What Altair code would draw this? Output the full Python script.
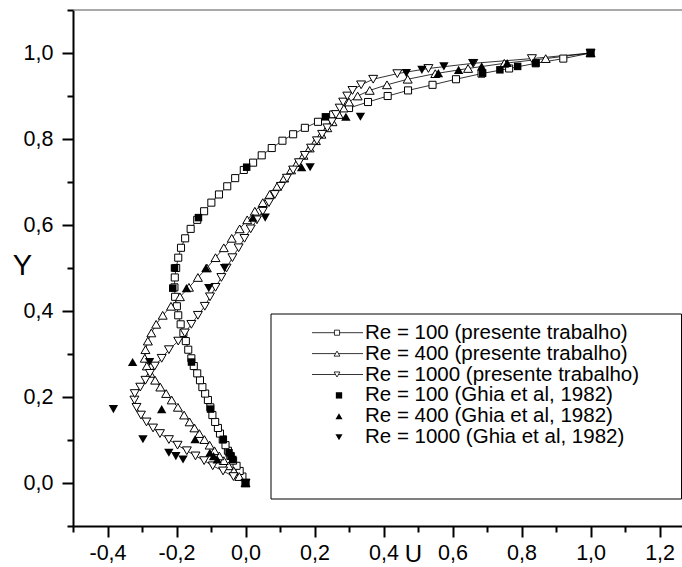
import altair as alt
import pandas as pd

# ---------------- data ----------------
y_grid = [0.000, 0.015, 0.028, 0.040, 0.052, 0.063, 0.075, 0.088, 0.101, 0.115,
          0.128, 0.142, 0.158, 0.176, 0.193, 0.208, 0.223, 0.239, 0.255, 0.272,
          0.290, 0.310, 0.330, 0.349, 0.369, 0.390, 0.411, 0.433, 0.455, 0.478,
          0.500, 0.524, 0.547, 0.569, 0.591, 0.612, 0.632, 0.652, 0.671, 0.690,
          0.709, 0.728, 0.745, 0.762, 0.779, 0.796, 0.811, 0.826, 0.840, 0.857,
          0.872, 0.886, 0.900, 0.913, 0.926, 0.939, 0.952, 0.964, 0.976, 0.987,
          1.000]

u_re100 = [0.000, -0.009, -0.017, -0.026, -0.036, -0.044, -0.051, -0.058, -0.066, -0.074,
           -0.080, -0.088, -0.096, -0.102, -0.109, -0.117, -0.125, -0.132, -0.140, -0.150,
           -0.157, -0.166, -0.173, -0.180, -0.188, -0.195, -0.199, -0.204, -0.206, -0.205,
           -0.201, -0.195, -0.187, -0.175, -0.159, -0.140, -0.120, -0.099, -0.077, -0.053,
           -0.030, -0.005, 0.022, 0.047, 0.076, 0.107, 0.138, 0.172, 0.210, 0.254,
           0.300, 0.355, 0.412, 0.471, 0.542, 0.610, 0.684, 0.764, 0.841, 0.921,
           1.000]

u_re400 = [0.000, -0.018, -0.034, -0.049, -0.063, -0.076, -0.090, -0.104, -0.119, -0.134,
           -0.148, -0.162, -0.178, -0.196, -0.214, -0.230, -0.247, -0.262, -0.276, -0.286,
           -0.292, -0.290, -0.283, -0.273, -0.259, -0.240, -0.216, -0.190, -0.164, -0.138,
           -0.112, -0.087, -0.063, -0.040, -0.017, 0.005, 0.027, 0.050, 0.070, 0.092,
           0.112, 0.132, 0.150, 0.168, 0.186, 0.204, 0.220, 0.237, 0.252, 0.270,
           0.284, 0.300, 0.325, 0.360, 0.410, 0.470, 0.550, 0.645, 0.750, 0.870,
           1.000]

u_re1000 = [0.000, -0.035, -0.065, -0.095, -0.120, -0.145, -0.170, -0.197, -0.222, -0.248,
            -0.268, -0.287, -0.303, -0.316, -0.322, -0.321, -0.305, -0.290, -0.277, -0.263,
            -0.243, -0.222, -0.195, -0.176, -0.157, -0.138, -0.118, -0.103, -0.087, -0.070,
            -0.055, -0.038, -0.020, -0.003, 0.015, 0.033, 0.050, 0.068, 0.085, 0.103,
            0.120, 0.138, 0.155, 0.172, 0.190, 0.207, 0.222, 0.237, 0.250, 0.262,
            0.273, 0.283, 0.295, 0.310, 0.335, 0.370, 0.440, 0.530, 0.660, 0.830,
            1.000]

ghia_y = [1.0000, 0.9766, 0.9688, 0.9609, 0.9531, 0.8516, 0.7344, 0.6172, 0.5000,
          0.4531, 0.2813, 0.1719, 0.1016, 0.0703, 0.0625, 0.0547, 0.0000]
ghia_re100 = [1.0, 0.84123, 0.78871, 0.73722, 0.68717, 0.23151, 0.00332, -0.13641,
              -0.20581, -0.21090, -0.15662, -0.10150, -0.06434, -0.04775, -0.04192,
              -0.03717, 0.0]
ghia_re400 = [1.0, 0.75837, 0.68439, 0.61756, 0.55892, 0.29093, 0.16256, 0.02135,
              -0.11477, -0.17119, -0.32726, -0.24299, -0.14612, -0.10338, -0.09266,
              -0.08186, 0.0]
ghia_re1000 = [1.0, 0.65928, 0.57492, 0.51117, 0.46604, 0.33304, 0.18719, 0.05702,
               -0.06080, -0.10648, -0.27805, -0.38289, -0.29730, -0.22220, -0.20196,
               -0.18109, 0.0]

present_labels = ["Re = 100 (presente trabalho)", "Re = 400 (presente trabalho)",
                  "Re = 1000 (presente trabalho)"]
ghia_labels = ["Re = 100 (Ghia et al, 1982)", "Re = 400 (Ghia et al, 1982)",
               "Re = 1000 (Ghia et al, 1982)"]

x_ticks = [-0.5, -0.4, -0.3, -0.2, -0.1, 0.0, 0.1, 0.2, 0.3, 0.4, 0.5, 0.6, 0.7,
           0.8, 0.9, 1.0, 1.1, 1.2]
y_ticks = [-0.1, 0.0, 0.1, 0.2, 0.3, 0.4, 0.5, 0.6, 0.7, 0.8, 0.9, 1.0, 1.1]

present_u = [u_re100, u_re400, u_re1000]
ghia_u = [ghia_re100, ghia_re400, ghia_re1000]

# ---------------- style ----------------
FONT = "Liberation Sans"
W, H = 609, 516
shapes = ["square", "triangle-up", "triangle-down"]
open_sizes = [50, 80, 80]
fill_sizes = [56, 88, 88]

major_test = "abs(round(datum.value*10)) % 2 == 0"
label_expr = ("abs(round(datum.value*10)) % 2 == 0 ? "
              "(datum.value < -0.001 ? '-' : '') + "
              "replace(format(abs(datum.value), '.1f'), '.', ',') : ''")

x_axis = alt.Axis(values=x_ticks, labelExpr=label_expr, title="U",
                  grid=False, domainColor="black", domainWidth=2,
                  tickColor="black", tickWidth=2,
                  tickSize={"condition": {"test": major_test, "value": 11}, "value": 6},
                  labelFont=FONT, labelFontSize=21.5, labelColor="black",
                  labelPadding=5, labelFlush=False, labelOverlap=False,
                  titleFont=FONT, titleFontSize=24, titleFontWeight="normal",
                  titleColor="black", titleX=340, titleY=35,
                  titleBaseline="alphabetic", titleAlign="center")
y_axis = alt.Axis(values=y_ticks, labelExpr=label_expr, title="Y",
                  grid=False, domainColor="black", domainWidth=2,
                  tickColor="black", tickWidth=2,
                  tickSize={"condition": {"test": major_test, "value": 11}, "value": 6},
                  labelFont=FONT, labelFontSize=21.5, labelColor="black",
                  labelPadding=9, labelFlush=False, labelOverlap=False,
                  titleFont=FONT, titleFontSize=29, titleFontWeight="normal",
                  titleColor="black", titleAngle=0, titleX=-51, titleY=255,
                  titleBaseline="middle", titleAlign="center")

x_scale = alt.Scale(domain=[-0.5, 1.265], nice=False, zero=False)
y_scale = alt.Scale(domain=[-0.1, 1.1], nice=False, zero=False)

one = alt.Data(values=[{"k": 0}])

layers = []

# top frame line
layers.append(alt.Chart(one).mark_rule(color="#555555", strokeWidth=1.2).encode(
    x=alt.value(0), x2=alt.value(W), y=alt.value(0)))

# present work: lines
for lab, us in zip(present_labels, present_u):
    df = pd.DataFrame({"u": us, "y": y_grid, "series": lab})
    layers.append(alt.Chart(df).mark_line(color="black", strokeWidth=0.8).encode(
        x=alt.X("u:Q", scale=x_scale, axis=x_axis),
        y=alt.Y("y:Q", scale=y_scale, axis=y_axis),
        order="y:Q"))

# present work: open markers
for lab, us, shp, sz in zip(present_labels, present_u, shapes, open_sizes):
    df = pd.DataFrame({"u": us, "y": y_grid, "series": lab})
    layers.append(alt.Chart(df).mark_point(
        shape=shp, size=sz, filled=False, fill="white", fillOpacity=1,
        stroke="black", strokeWidth=1, opacity=1).encode(
        x=alt.X("u:Q", scale=x_scale, axis=x_axis),
        y=alt.Y("y:Q", scale=y_scale, axis=y_axis)))

# Ghia et al: filled markers
for lab, us, shp, sz in zip(ghia_labels, ghia_u, shapes, fill_sizes):
    df = pd.DataFrame({"u": us, "y": ghia_y, "series": lab})
    layers.append(alt.Chart(df).mark_point(
        shape=shp, size=sz, filled=True, color="black", opacity=1).encode(
        x=alt.X("u:Q", scale=x_scale, axis=x_axis),
        y=alt.Y("y:Q", scale=y_scale, axis=y_axis)))

# legend box
layers.append(alt.Chart(one).mark_rect(fill="white", stroke="black", strokeWidth=1).encode(
    x=alt.value(198), x2=alt.value(608.5), y=alt.value(304), y2=alt.value(489)))

row_y = [322.7, 343.6, 364.5, 385.4, 406.3, 427.2]
all_labels = present_labels + ghia_labels
for i, lab in enumerate(all_labels):
    ry = row_y[i]
    if i < 3:
        layers.append(alt.Chart(one).mark_rule(color="black", strokeWidth=0.8).encode(
            x=alt.value(239), x2=alt.value(290), y=alt.value(ry)))
        layers.append(alt.Chart(one).mark_point(
            shape=shapes[i], size=[26, 34, 34][i], filled=False, fill="white",
            fillOpacity=1, stroke="black", strokeWidth=0.8, opacity=1).encode(
            x=alt.value(264), y=alt.value(ry)))
    else:
        layers.append(alt.Chart(one).mark_point(
            shape=shapes[i - 3], size=[40, 50, 50][i - 3], filled=True,
            color="black", opacity=1).encode(
            x=alt.value(266), y=alt.value(ry)))
    layers.append(alt.Chart(one).mark_text(
        align="left", baseline="middle", font=FONT, fontSize=20.5,
        color="black").encode(
        x=alt.value(292), y=alt.value(ry), text=alt.value(lab)))

chart = alt.layer(*layers).properties(
    width=W, height=H,
    autosize=alt.AutoSizeParams(type="none"),
    padding={"left": 73, "top": 10, "right": 0, "bottom": 41},
    background="white",
).configure_view(stroke=None)

chart.save("out.html", embed_options={"renderer": "svg", "actions": False})
